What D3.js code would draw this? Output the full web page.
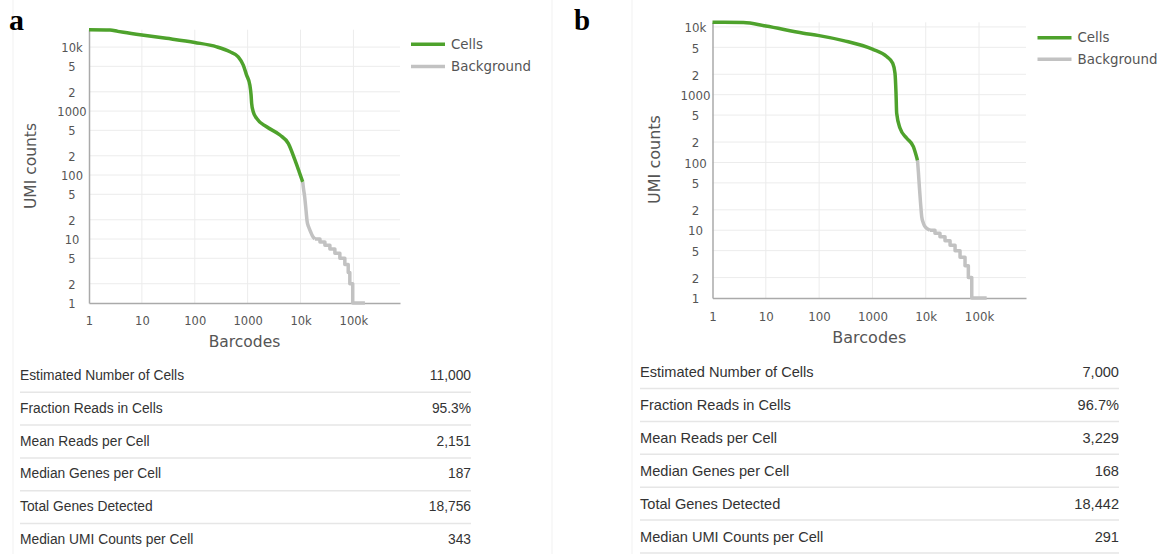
<!DOCTYPE html>
<html><head><meta charset="utf-8">
<script src="https://cdn.jsdelivr.net/npm/d3@7"></script>
<style>body{margin:0;background:#fff;} svg{display:block;}</style>
</head><body>
<svg id="chart" width="1172" height="554"></svg>
<script>
// ---------- data ----------
const xTickValues = [1, 10, 100, 1000, 10000, 100000];
const xTickLabels = ["1", "10", "100", "1000", "10k", "100k"];
const yTickValues = [1, 2, 5, 10, 20, 50, 100, 200, 500, 1000, 2000, 5000, 10000];
const yTickLabels = ["1", "2", "5", "10", "2", "5", "100", "2", "5", "1000", "2", "5", "10k"];
const xMaxBarcodes = 760000;
const legendLabels = ["Cells", "Background"];
const xAxisTitle = "Barcodes";
const yAxisTitle = "UMI counts";

// panel a
const cellsA_barcodes = [1, 2.5, 3.5, 4.5, 10, 29, 100, 260, 463, 664, 826, 955, 1100, 1160, 1190, 1275, 1480, 2285, 4080, 5860, 7830, 9500, 11000];
const cellsA_umi      = [18700, 18500, 17600, 17000, 15400, 13700, 11800, 10100, 8450, 7060, 5230, 3650, 2550, 1800, 1320, 975, 769, 569, 422, 313, 172, 110, 78];
const bgSmoothA_barcodes = [11000, 11300, 12000, 12700, 13300, 14200, 15500, 17000, 18700];
const bgSmoothA_umi      = [78, 64, 45, 28, 19, 15.5, 13, 11, 10];
const bgStepsA_barcodes  = [18700, 23300, 28900, 35900, 44600, 55400, 68800, 79700, 85500, 97000, 165000];
const bgStepsA_umi       = [10, 9, 8, 7, 6, 5, 4, 3, 2, 1, 1];

// panel b
const cellsB_barcodes = [1, 3.8, 10, 50.6, 100, 285, 1000, 1850, 2400, 2650, 2770, 2850, 3300, 4400, 5860, 7000];
const cellsB_umi      = [11700, 11600, 10300, 8070, 7440, 6280, 4690, 3650, 2910, 2070, 1050, 532, 320, 228, 171, 108];
const bgSmoothB_barcodes = [7000, 7300, 7590, 8000, 8410, 9000, 9700, 10800, 12000];
const bgSmoothB_umi      = [108, 70, 44, 25, 15.8, 12.8, 11.3, 10.5, 10];
const bgStepsB_barcodes  = [12000, 14900, 18500, 23000, 28600, 35500, 44000, 54600, 63000, 73000, 139000];
const bgStepsB_umi       = [10, 9, 8, 7, 6, 5, 4, 3, 2, 1, 1];

// summary tables
const metricNames = ["Estimated Number of Cells", "Fraction Reads in Cells", "Mean Reads per Cell",
                     "Median Genes per Cell", "Total Genes Detected", "Median UMI Counts per Cell"];
const metricsA = ["11,000", "95.3%", "2,151", "187", "18,756", "343"];
const metricsB = ["7,000", "96.7%", "3,229", "168", "18,442", "291"];

// ---------- drawing ----------
const svg = d3.select("#chart");
const GREEN = "#4ea22c", GREY = "#c2c2c2";
const zip = (a, b) => a.map((v, i) => [v, b[i]]);

// faint screenshot borders
[13, 552, 632].forEach(x => svg.append("line").attr("x1", x).attr("x2", x).attr("y1", 0).attr("y2", 554)
  .attr("stroke", "#f1f1f1").attr("stroke-width", 1));

function drawPanel(p, d) {
  const g = svg.append("g");
  const x = d3.scaleLog().domain([1, xMaxBarcodes]).range([p.left, p.right]);
  const y = d3.scaleLog().domain([1, d3.max(d.cellsY)]).range([p.bottom, p.top]);

  // grid
  g.append("g").selectAll("line").data(yTickValues.filter(v => v > 1)).join("line")
    .attr("x1", p.left).attr("x2", p.right).attr("y1", v => y(v)).attr("y2", v => y(v))
    .attr("stroke", "#ececec").attr("stroke-width", 1);
  g.append("g").selectAll("line").data(xTickValues.filter(v => v > 1)).join("line")
    .attr("y1", p.top).attr("y2", p.bottom).attr("x1", v => x(v)).attr("x2", v => x(v))
    .attr("stroke", "#ececec").attr("stroke-width", 1);

  // axes
  const gx = g.append("g").attr("transform", `translate(0,${p.bottom})`)
    .call(d3.axisBottom(x).tickValues(xTickValues).tickFormat((v, i) => xTickLabels[i]).tickSize(0).tickSizeOuter(0))
    .attr("font-family", "DejaVu Sans").attr("font-size", p.tickSize);
  gx.select(".domain").attr("stroke", "#aaa").attr("stroke-width", 1.5);
  gx.selectAll("text").attr("y", p.xLabOff).attr("dy", 0).attr("fill", "#555");

  const gy = g.append("g").attr("transform", `translate(${p.left},0)`)
    .call(d3.axisLeft(y).tickValues(yTickValues).tickFormat((v, i) => yTickLabels[i]).tickSize(0).tickSizeOuter(0))
    .attr("font-family", "DejaVu Sans").attr("font-size", p.tickSize);
  gy.select(".domain").attr("stroke", "#aaa").attr("stroke-width", 1.5);
  gy.selectAll("text").attr("x", -17).attr("text-anchor", "middle").attr("dy", "0.4em").attr("fill", "#555");

  // axis titles
  g.append("text").attr("x", (p.left + p.right) / 2).attr("y", p.xTitleY).attr("text-anchor", "middle")
    .attr("font-family", "DejaVu Sans").attr("font-size", p.titleSize).attr("fill", "#555").text(xAxisTitle);
  g.append("text").attr("transform", `translate(${p.yTitleX},${p.yTitleY}) rotate(-90)`).attr("text-anchor", "middle")
    .attr("font-family", "DejaVu Sans").attr("font-size", p.titleSize).attr("fill", "#555").text(yAxisTitle);

  // curves
  const line = d3.line().x(v => x(v[0])).y(v => y(v[1]));
  g.append("path").datum(zip(d.bgSmX, d.bgSmY)).attr("d", line.curve(d3.curveMonotoneX))
    .attr("fill", "none").attr("stroke", GREY).attr("stroke-width", 3.5).attr("stroke-linejoin", "round");
  g.append("path").datum(zip(d.bgStX, d.bgStY)).attr("d", line.curve(d3.curveStepAfter))
    .attr("fill", "none").attr("stroke", GREY).attr("stroke-width", 3.5).attr("stroke-linejoin", "round");
  g.append("path").datum(zip(d.cellsX, d.cellsY)).attr("d", line.curve(d3.curveMonotoneX))
    .attr("fill", "none").attr("stroke", GREEN).attr("stroke-width", 3.5).attr("stroke-linejoin", "round");

  // legend
  legendLabels.forEach((lab, i) => {
    const ly = p.legY + i * p.legGap;
    g.append("line").attr("x1", p.legX).attr("x2", p.legX + 34).attr("y1", ly).attr("y2", ly)
      .attr("stroke", i === 0 ? GREEN : GREY).attr("stroke-width", 3.5);
    g.append("text").attr("x", p.legX + 40).attr("y", ly).attr("dy", "0.35em")
      .attr("font-family", "DejaVu Sans").attr("font-size", 13.4).attr("fill", "#555").text(lab);
  });

  // panel letter
  g.append("text").attr("x", p.letterX).attr("y", 30).attr("font-family", "Liberation Serif")
    .attr("font-weight", "bold").attr("font-size", p.letterSize).attr("fill", "#000").text(p.letter);

  // table
  metricNames.forEach((name, i) => {
    const by = p.tabY + i * p.rowH;
    g.append("text").attr("x", p.tabL).attr("y", by).attr("font-family", "Liberation Sans")
      .attr("font-size", p.tabFont).attr("fill", "#333").text(name);
    g.append("text").attr("x", p.tabR).attr("y", by).attr("text-anchor", "end").attr("font-family", "Liberation Sans")
      .attr("font-size", p.tabFont).attr("fill", "#333").text(d.metrics[i]);
    if (i < metricNames.length - 1 || p.lastLine) {
      g.append("line").attr("x1", p.tabL).attr("x2", p.tabR).attr("y1", by + p.sepOff).attr("y2", by + p.sepOff)
        .attr("stroke", "#e6e6e6").attr("stroke-width", 1.5);
    }
  });
}

drawPanel({
  letter: "a", letterX: 9, letterSize: 30,
  left: 89, right: 400, top: 29.7, bottom: 303,
  tickSize: 11.5, xLabOff: 22, titleSize: 15.5, xTitleY: 346.5, yTitleX: 36, yTitleY: 166,
  legX: 411, legY: 44.3, legGap: 22.3,
  tabL: 20, tabR: 471, tabY: 380, rowH: 32.8, tabFont: 13.8, sepOff: 12.3, lastLine: false
}, {
  cellsX: cellsA_barcodes, cellsY: cellsA_umi,
  bgSmX: bgSmoothA_barcodes, bgSmY: bgSmoothA_umi,
  bgStX: bgStepsA_barcodes, bgStY: bgStepsA_umi, metrics: metricsA
});

drawPanel({
  letter: "b", letterX: 574, letterSize: 29,
  left: 712.5, right: 1026, top: 22.3, bottom: 298,
  tickSize: 11.8, xLabOff: 23, titleSize: 16, xTitleY: 343, yTitleX: 659.5, yTitleY: 159.5,
  legX: 1037.5, legY: 37.7, legGap: 21.6,
  tabL: 640, tabR: 1119, tabY: 377, rowH: 32.9, tabFont: 14.6, sepOff: 11.5, lastLine: true
}, {
  cellsX: cellsB_barcodes, cellsY: cellsB_umi,
  bgSmX: bgSmoothB_barcodes, bgSmY: bgSmoothB_umi,
  bgStX: bgStepsB_barcodes, bgStY: bgStepsB_umi, metrics: metricsB
});
</script>
</body></html>
